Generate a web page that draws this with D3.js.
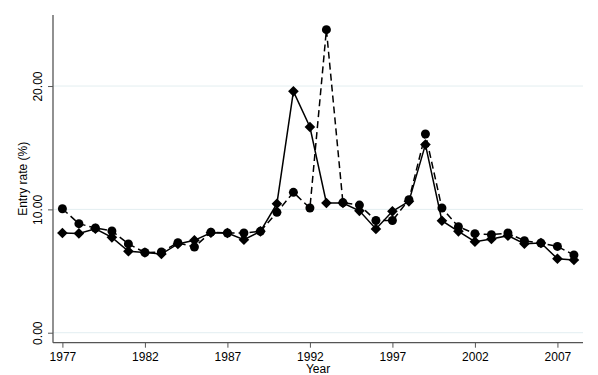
<!DOCTYPE html>
<html>
<head>
<meta charset="utf-8">
<script src="https://cdn.jsdelivr.net/npm/d3@7"></script>
<style>
  body { margin: 0; background: #fff; }
  text { font-family: "Liberation Sans", Arial, sans-serif; fill: #000; }
</style>
</head>
<body>
<div id="chart"></div>
<script>
var years = d3.range(1977, 2009);
var yearTicks = [1977, 1982, 1987, 1992, 1997, 2002, 2007];
var rateTicks = [0, 10, 20];

// dashed series with circles
var circleRates = [10.05, 8.84, 8.49, 8.25, 7.2, 6.5, 6.55, 7.3, 6.95, 8.15,
  8.08, 8.08, 8.22, 9.76, 11.38, 10.11, 24.57, 10.55, 10.35, 9.1,
  9.1, 10.78, 16.11, 10.11, 8.6, 8.03, 7.95, 8.08, 7.46, 7.27,
  7.0, 6.3];

// solid series with diamonds
var diamondRates = [8.08, 8.05, 8.43, 7.73, 6.6, 6.5, 6.38, 7.2, 7.49, 8.1,
  8.08, 7.54, 8.22, 10.46, 19.57, 16.68, 10.52, 10.52, 9.88, 8.41,
  9.84, 10.65, 15.25, 9.08, 8.22, 7.38, 7.6, 7.87, 7.22, 7.27,
  6.0, 5.9];

(function entryChart() {
  var W = 598, H = 375;
  var plotLeft = 53, plotRight = 583, plotTop = 15, plotBottom = 342.7;

  var svg = d3.select("#chart").append("svg")
    .attr("width", W)
    .attr("height", H);

  var x = d3.scaleLinear()
    .domain([1976.43, 2008.55])
    .range([plotLeft, plotRight]);
  var y = d3.scaleLinear()
    .domain([-0.81, 25.76])
    .range([plotBottom, plotTop]);

  // gridlines
  svg.append("g")
    .selectAll("line")
    .data(rateTicks).enter()
    .append("line")
    .attr("x1", plotLeft).attr("x2", plotRight)
    .attr("y1", function(d) { return y(d); })
    .attr("y2", function(d) { return y(d); })
    .attr("stroke", "#e3eef1")
    .attr("stroke-width", 1);

  // y axis
  var yAxis = svg.append("g")
    .attr("transform", "translate(" + plotLeft + ",0)")
    .call(d3.axisLeft(y).tickValues(rateTicks).tickFormat(d3.format(".2f")).tickSize(5).tickSizeOuter(0));
  yAxis.select(".domain").remove();
  yAxis.append("line")
    .attr("x1", 0).attr("x2", 0)
    .attr("y1", plotTop).attr("y2", plotBottom)
    .attr("stroke", "#555").attr("stroke-width", 1.3);
  yAxis.selectAll(".tick line").attr("stroke", "#555");
  yAxis.selectAll(".tick text")
    .attr("x", null).attr("dy", null)
    .attr("text-anchor", "middle")
    .attr("transform", "translate(-11,0) rotate(-90)")
    .style("font-size", "12px")
    .style("font-family", "Liberation Sans, Arial, sans-serif");

  // x axis
  var xAxis = svg.append("g")
    .attr("transform", "translate(0," + plotBottom + ")")
    .call(d3.axisBottom(x).tickValues(yearTicks).tickFormat(d3.format("d")).tickSize(5).tickSizeOuter(0));
  xAxis.select(".domain").remove();
  xAxis.append("line")
    .attr("x1", plotLeft).attr("x2", plotRight)
    .attr("y1", 0).attr("y2", 0)
    .attr("stroke", "#555").attr("stroke-width", 1.3);
  xAxis.selectAll(".tick line").attr("stroke", "#555");
  xAxis.selectAll(".tick text")
    .attr("y", 18).attr("dy", null)
    .style("font-size", "12px")
    .style("font-family", "Liberation Sans, Arial, sans-serif");

  // axis titles
  svg.append("text")
    .text("Entry rate (%)")
    .attr("text-anchor", "middle")
    .attr("transform", "translate(27," + ((plotTop + plotBottom) / 2) + ") rotate(-90)")
    .style("font-size", "12px");

  svg.append("text")
    .text("Year")
    .attr("text-anchor", "middle")
    .attr("x", (plotLeft + plotRight) / 2)
    .attr("y", 373)
    .style("font-size", "12px");

  var circleData = years.map(function(yr, i) { return { year: yr, v: circleRates[i] }; });
  var diamondData = years.map(function(yr, i) { return { year: yr, v: diamondRates[i] }; });

  var line = d3.line()
    .x(function(d) { return x(d.year); })
    .y(function(d) { return y(d.v); });

  svg.append("path")
    .datum(diamondData)
    .attr("d", line)
    .attr("fill", "none")
    .attr("stroke", "#000")
    .attr("stroke-width", 1.5);

  svg.append("path")
    .datum(circleData)
    .attr("d", line)
    .attr("fill", "none")
    .attr("stroke", "#000")
    .attr("stroke-width", 1.5)
    .attr("stroke-dasharray", "7,4");

  svg.append("g")
    .selectAll("path")
    .data(diamondData).enter()
    .append("path")
    .attr("d", d3.symbol().type(d3.symbolDiamond2).size(72))
    .attr("transform", function(d) { return "translate(" + x(d.year) + "," + y(d.v) + ")"; })
    .attr("fill", "#000");

  svg.append("g")
    .selectAll("circle")
    .data(circleData).enter()
    .append("circle")
    .attr("cx", function(d) { return x(d.year); })
    .attr("cy", function(d) { return y(d.v); })
    .attr("r", 4.5)
    .attr("fill", "#000");
})();
</script>
</body>
</html>
